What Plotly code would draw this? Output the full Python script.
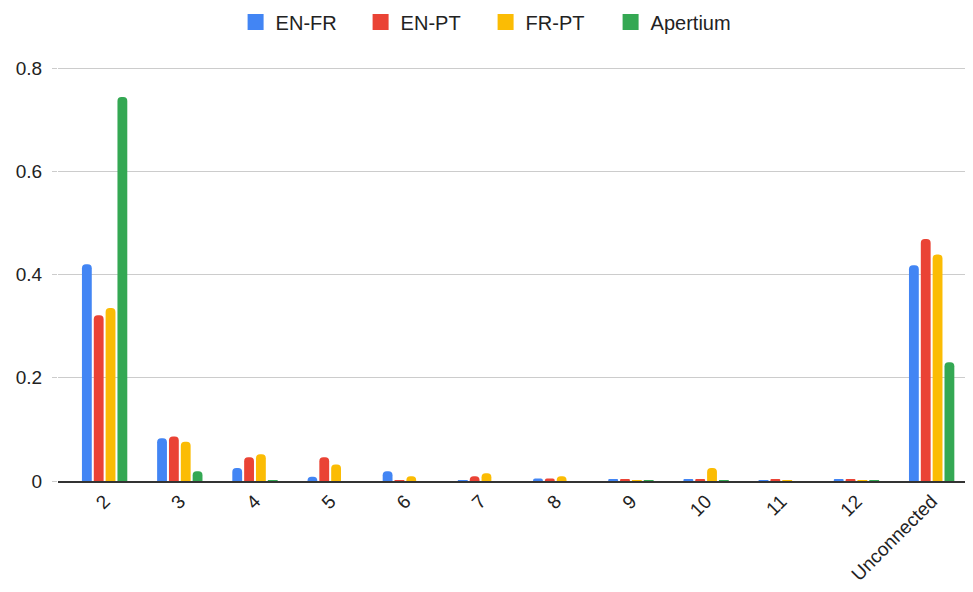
import plotly.graph_objects as go

categories = ["2", "3", "4", "5", "6", "7", "8", "9", "10", "11", "12", "Unconnected"]
en_fr = [0.420, 0.083, 0.025, 0.008, 0.019, 0.001, 0.005, 0.002, 0.002, 0.001, 0.002, 0.418]
en_pt = [0.321, 0.086, 0.046, 0.046, 0.001, 0.009, 0.005, 0.002, 0.002, 0.002, 0.002, 0.469]
fr_pt = [0.335, 0.076, 0.052, 0.032, 0.009, 0.015, 0.009, 0.001, 0.025, 0.001, 0.001, 0.439]
apertium = [0.744, 0.019, 0.001, 0.0, 0.0, 0.0, 0.0, 0.001, 0.001, 0.0, 0.001, 0.230]

series = [
    ("EN-FR", en_fr, "#4285F4"),
    ("EN-PT", en_pt, "#EA4335"),
    ("FR-PT", fr_pt, "#FBBC04"),
    ("Apertium", apertium, "#34A853"),
]

fig = go.Figure()
for name, vals, color in series:
    fig.add_trace(go.Bar(x=categories, y=vals, name=name, marker_color=color,
                         marker_line_width=0, showlegend=False))
for name, vals, color in series:
    fig.add_trace(go.Scatter(x=[None], y=[None], mode="markers", name=name,
                             marker=dict(symbol="square", size=16, color=color)))

fig.update_layout(
    width=973, height=592,
    margin=dict(l=47, r=8, t=55, b=119),
    paper_bgcolor="white", plot_bgcolor="white",
    font=dict(family="Liberation Sans, Arial, sans-serif", size=19, color="#222222"),
    barmode="group", bargap=0.37, bargroupgap=0.17, barcornerradius=4,
    legend=dict(orientation="h", x=0.5 - 30 / 918, xanchor="center", y=1 - 14 / 592,
                yanchor="middle", yref="container", font=dict(size=20, color="#222222"),
                traceorder="normal", itemwidth=30, entrywidth=80, entrywidthmode="pixels"),
    showlegend=True,
)
fig.update_xaxes(type="category", range=[-0.62, 11.55], tickangle=-45,
                 showline=True, linecolor="#333333", linewidth=1.5,
                 showgrid=False, ticks="", tickfont=dict(size=19))
fig.update_yaxes(range=[0, 0.81], tickvals=[0, 0.2, 0.4, 0.6, 0.8],
                 ticktext=["0", "0.2", "0.4", "0.6", "0.8"],
                 showgrid=True, gridcolor="#cccccc", gridwidth=1,
                 zeroline=False, ticks="outside", ticklen=5, tickcolor="#cccccc",
                 tickfont=dict(size=19), ticklabelstandoff=6)

fig.write_html("out.html")
